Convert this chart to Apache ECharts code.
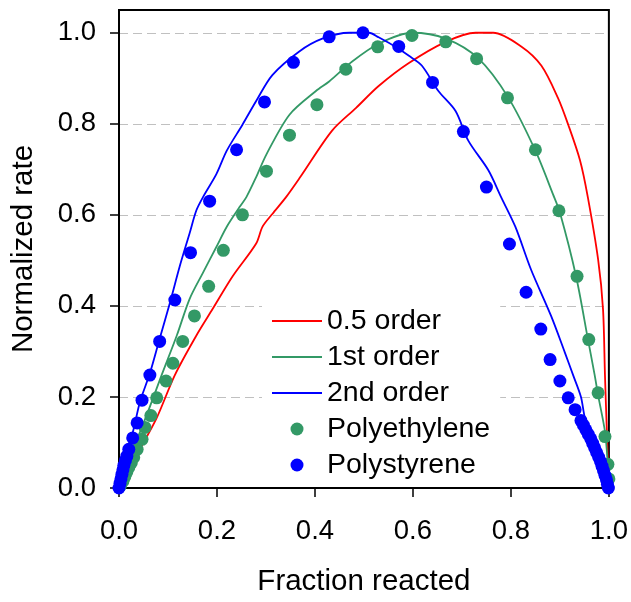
<!DOCTYPE html>
<html><head><meta charset="utf-8">
<script src="https://cdn.jsdelivr.net/npm/echarts@6/dist/echarts.min.js"></script>
<style>html,body{margin:0;padding:0;background:#fff}#c{width:631px;height:602px}</style>
</head><body><div id="c"></div>
<script>
var xTicks = [0, 0.2, 0.4, 0.6, 0.8, 1.0];
var yTicks = [0, 0.2, 0.4, 0.6, 0.8, 1.0];
var seriesNames = ['0.5 order', '1st order', '2nd order', 'Polyethylene', 'Polystyrene'];

var order05 = [[0,0],[0.02,0.04],[0.04,0.08],[0.077,0.154],[0.114,0.248],[0.158,0.335],[0.191,0.393],[0.232,0.465],[0.28,0.537],[0.293,0.574],[0.313,0.602],[0.341,0.639],[0.37,0.683],[0.435,0.785],[0.484,0.835],[0.53,0.883],[0.591,0.933],[0.667,0.98],[0.728,1.0],[0.764,1.0],[0.821,0.97],[0.862,0.928],[0.896,0.857],[0.917,0.798],[0.941,0.72],[0.957,0.639],[0.978,0.502],[0.988,0.393],[0.992,0.248],[0.996,0.12],[1.0,0]];

var order1 = [[0,0],[0.02,0.06],[0.04,0.115],[0.06,0.17],[0.087,0.248],[0.118,0.335],[0.144,0.415],[0.171,0.472],[0.199,0.53],[0.22,0.574],[0.246,0.617],[0.26,0.639],[0.28,0.683],[0.301,0.733],[0.348,0.82],[0.402,0.872],[0.429,0.893],[0.476,0.937],[0.53,0.976],[0.598,1.0],[0.667,0.987],[0.734,0.943],[0.795,0.857],[0.85,0.741],[0.886,0.645],[0.9,0.605],[0.933,0.465],[0.957,0.328],[0.971,0.248],[0.978,0.204],[0.992,0.124],[0.998,0.05],[1.0,0]];

var order2 = [[0,0],[0.01,0.045],[0.02,0.09],[0.03,0.13],[0.043,0.19],[0.063,0.252],[0.083,0.328],[0.104,0.407],[0.124,0.487],[0.144,0.559],[0.158,0.61],[0.172,0.64],[0.199,0.69],[0.22,0.741],[0.252,0.798],[0.28,0.85],[0.313,0.907],[0.368,0.959],[0.415,0.987],[0.47,1.0],[0.51,1.0],[0.53,0.99],[0.571,0.965],[0.591,0.95],[0.618,0.928],[0.652,0.872],[0.687,0.828],[0.713,0.763],[0.754,0.698],[0.78,0.639],[0.809,0.574],[0.841,0.48],[0.882,0.378],[0.91,0.298],[0.927,0.248],[0.943,0.2],[0.951,0.154],[0.97,0.09],[0.99,0.03],[1.0,0]];

var polyethylene = [[0.003,0.005],[0.008,0.015],[0.012,0.025],[0.016,0.035],[0.02,0.045],[0.025,0.055],[0.03,0.067],[0.037,0.085],[0.047,0.107],[0.053,0.133],[0.065,0.159],[0.077,0.198],[0.096,0.235],[0.11,0.274],[0.13,0.322],[0.154,0.378],[0.183,0.443],[0.213,0.522],[0.252,0.6],[0.301,0.696],[0.348,0.775],[0.404,0.842],[0.463,0.92],[0.528,0.969],[0.598,0.994],[0.667,0.98],[0.73,0.943],[0.793,0.857],[0.85,0.743],[0.898,0.609],[0.935,0.465],[0.959,0.326],[0.978,0.209],[0.992,0.113],[0.998,0.052],[1.0,0.02]];

var polystyrene = [[0.0,0.0],[0.002,0.01],[0.004,0.02],[0.006,0.03],[0.008,0.04],[0.01,0.05],[0.013,0.06],[0.016,0.07],[0.02,0.085],[0.028,0.11],[0.037,0.143],[0.047,0.193],[0.063,0.248],[0.083,0.322],[0.114,0.413],[0.146,0.517],[0.185,0.63],[0.24,0.743],[0.297,0.848],[0.356,0.935],[0.429,0.991],[0.498,1.0],[0.571,0.97],[0.64,0.891],[0.703,0.783],[0.75,0.661],[0.797,0.536],[0.831,0.43],[0.861,0.349],[0.88,0.282],[0.9,0.235],[0.917,0.198],[0.931,0.172],[0.943,0.148],[0.948,0.138],[0.953,0.128],[0.958,0.118],[0.963,0.108],[0.967,0.098],[0.971,0.088],[0.975,0.078],[0.979,0.068],[0.983,0.058],[0.986,0.048],[0.989,0.038],[0.992,0.028],[0.995,0.018],[0.997,0.008],[0.999,0.0]];

var FONT = 'Liberation Sans, Arial, sans-serif';
var LINE_ICON = 'path://M0,0 L50,0 L50,2 L0,2 Z';
var chart = echarts.init(document.getElementById('c'), null, {renderer: 'canvas'});
chart.setOption({
  animation: false,
  backgroundColor: '#fff',
  textStyle: {fontFamily: FONT},
  grid: {left: 119, right: 20, top: 10, bottom: 108, show: true, borderColor: '#000', borderWidth: 2, backgroundColor: 'transparent'},
  xAxis: {
    type: 'value', min: 0, max: 1, interval: 0.2,
    name: 'Fraction reacted', nameLocation: 'middle', nameGap: 79,
    nameTextStyle: {fontSize: 29.5, color: '#000', fontFamily: FONT},
    axisLine: {lineStyle: {color: '#000', width: 2}},
    axisTick: {show: true, inside: false, length: 9, lineStyle: {color: '#000', width: 1.5}},
    axisLabel: {fontSize: 27.5, color: '#000', margin: 29, fontFamily: FONT, formatter: function (v) { return v.toFixed(1); }},
    splitLine: {show: false}
  },
  yAxis: {
    type: 'value', min: 0, max: 1.05, interval: 0.2,
    name: 'Normalized rate', nameLocation: 'middle', nameGap: 80,
    nameTextStyle: {fontSize: 29.5, color: '#000', fontFamily: FONT},
    axisLine: {lineStyle: {color: '#000', width: 2}},
    axisTick: {show: true, inside: false, length: 9, customValues: yTicks, lineStyle: {color: '#000', width: 1.5}},
    axisLabel: {fontSize: 27.5, color: '#000', margin: 23, fontFamily: FONT, customValues: yTicks,
      formatter: function (v) { return v > 1.001 ? '' : v.toFixed(1); }},
    splitLine: {show: true, lineStyle: {color: '#c0c0c0', width: 1, type: [9, 5]}}
  },
  legend: {
    orient: 'vertical', left: 262, top: 303,
    backgroundColor: '#fff', padding: [3, 10, 3, 10],
    itemWidth: 50, itemHeight: 13, itemGap: 6,
    textStyle: {fontSize: 28.5, color: '#000', fontFamily: FONT, lineHeight: 30},
    data: [
      {name: seriesNames[0], icon: LINE_ICON}, {name: seriesNames[1], icon: LINE_ICON}, {name: seriesNames[2], icon: LINE_ICON},
      {name: seriesNames[3], icon: 'circle'}, {name: seriesNames[4], icon: 'circle'}
    ]
  },
  series: [
    {name: seriesNames[0], type: 'line', data: order05, symbol: 'none', smooth: 0.3, lineStyle: {color: '#ff0000', width: 1.8}, itemStyle: {color: '#ff0000'}, z: 2},
    {name: seriesNames[1], type: 'line', data: order1, symbol: 'none', smooth: 0.3, lineStyle: {color: '#339966', width: 1.8}, itemStyle: {color: '#339966'}, z: 2},
    {name: seriesNames[2], type: 'line', data: order2, symbol: 'none', smooth: 0.3, lineStyle: {color: '#0000ff', width: 1.8}, itemStyle: {color: '#0000ff'}, z: 2},
    {name: seriesNames[3], type: 'scatter', data: polyethylene, symbol: 'circle', symbolSize: 13, clip: false, itemStyle: {color: '#339966', opacity: 1}, z: 3},
    {name: seriesNames[4], type: 'scatter', data: polystyrene, symbol: 'circle', symbolSize: 13, clip: false, itemStyle: {color: '#0000ff', opacity: 1}, z: 3}
  ]
});
</script>
</body></html>
